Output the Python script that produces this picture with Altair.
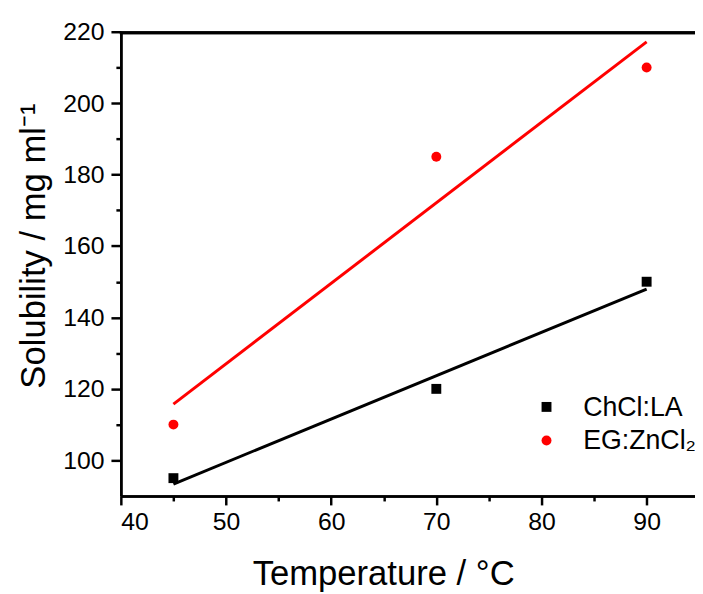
import altair as alt
import pandas as pd

# data
temperature = [45, 70, 90]
chcl_la = [95, 120, 150]
eg_zncl2 = [110, 185, 210]
series_names = ["ChCl:LA", "EG:ZnCl₂"]
series_colors = ["#000000", "#ff0000"]
series_shapes = ["square", "circle"]

x_major = [40, 50, 60, 70, 80, 90]
x_minor = [45, 55, 65, 75, 85]
y_major = [100, 120, 140, 160, 180, 200, 220]
y_minor = [110, 130, 150, 170, 190, 210]
x_range = [40, 94.6]
y_range = [90, 220]

df = pd.DataFrame({
    "T": temperature + temperature,
    "S": chcl_la + eg_zncl2,
    "series": [series_names[0]] * 3 + [series_names[1]] * 3,
})
legend_df = pd.DataFrame({"series": series_names})

FONT = "Liberation Sans"
xs = alt.Scale(domain=x_range, nice=False, zero=False)
ys = alt.Scale(domain=y_range, nice=False, zero=False)
color_scale = alt.Scale(domain=series_names, range=series_colors)
shape_scale = alt.Scale(domain=series_names, range=series_shapes)

base = alt.Chart(df)

lines = base.transform_calculate(fit="datum.series").transform_regression(
    "T", "S", groupby=["fit"], extent=[45, 90]
).mark_line(strokeWidth=3).encode(
    x=alt.X("T:Q", scale=xs, axis=alt.Axis(
        values=x_major, orient="bottom", title="Temperature / °C", tickSize=9,
        labelPadding=5, titleX=265, titleY=89, titleBaseline="alphabetic",
        titleFontSize=35, titleFontWeight="normal", titleFont=FONT)),
    y=alt.Y("S:Q", scale=ys, axis=alt.Axis(
        values=y_major, orient="left", title="Solubility / mg ml⁻¹", tickSize=10,
        labelPadding=7, titleX=-77, titleY=216, titleBaseline="alphabetic",
        titleAngle=270, titleFontSize=35, titleFontWeight="normal", titleFont=FONT)),
    stroke=alt.Stroke("fit:N", scale=color_scale, legend=None),
)

points = base.mark_point(filled=True, size=100, opacity=1).encode(
    x=alt.X("T:Q", scale=xs, axis=alt.Axis(
        values=x_minor, orient="bottom", labels=False, title=None, tickSize=5)),
    y=alt.Y("S:Q", scale=ys, axis=alt.Axis(
        values=y_minor, orient="left", labels=False, title=None, tickSize=5)),
    color=alt.Color("series:N", scale=color_scale, legend=None),
    shape=alt.Shape("series:N", scale=shape_scale, legend=None),
)

# top frame line of the plot box (decoration, not data)
frame_top = alt.Chart(legend_df).mark_rule(color="black", strokeWidth=3).encode(
    x=alt.value(-1), x2=alt.value(581), y=alt.value(1)
)

# legend drawn as its own small layers
leg_y = alt.Y("series:N", scale=alt.Scale(type="point", domain=series_names, range=[379, 413], padding=0), axis=None)

leg_sym = alt.Chart(legend_df).mark_point(filled=True, size=100, opacity=1).encode(
    x=alt.value(430), y=leg_y,
    color=alt.Color("series:N", scale=color_scale, legend=None),
    shape=alt.Shape("series:N", scale=shape_scale, legend=None),
)
leg_txt = alt.Chart(legend_df).mark_text(
    align="left", baseline="middle", font=FONT, fontSize=27, color="black", dy=1
).encode(x=alt.value(467), y=leg_y, text="series:N")

chart = alt.layer(lines, points, leg_sym, leg_txt, frame_top).resolve_axis(
    x="independent", y="independent"
).resolve_scale(y="independent").properties(
    width=580, height=469,
    autosize=alt.AutoSizeParams(type="none"),
    padding={"left": 114, "top": 21, "right": 0, "bottom": 95},
    background="white",
).configure_view(stroke=None).configure_axis(
    grid=False, domainColor="black", domainWidth=2.5, tickColor="black", tickWidth=2.5,
    labelColor="black", labelFont=FONT, labelFontSize=25, titleColor="black",
)

chart.save("out.html", embed_options={"renderer": "svg", "actions": False})
